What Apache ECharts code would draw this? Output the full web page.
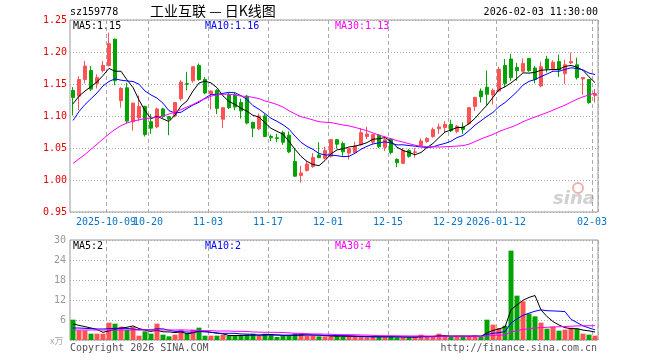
<!DOCTYPE html>
<html><head><meta charset="utf-8">
<script src="https://cdn.jsdelivr.net/npm/echarts@6/dist/echarts.min.js"></script>
<style>html,body{margin:0;padding:0;background:#fff}#c{width:660px;height:360px}</style>
</head><body><div id="c"></div>
<script>
const dates = ['2025-09-23','2025-09-24','2025-09-25','2025-09-26','2025-09-29','2025-09-30','2025-10-09','2025-10-10','2025-10-13','2025-10-14',
'2025-10-15','2025-10-16','2025-10-17','2025-10-20','2025-10-21','2025-10-22','2025-10-23','2025-10-24','2025-10-27','2025-10-28',
'2025-10-29','2025-10-30','2025-10-31','2025-11-03','2025-11-04','2025-11-05','2025-11-06','2025-11-07','2025-11-10','2025-11-11',
'2025-11-12','2025-11-13','2025-11-14','2025-11-17','2025-11-18','2025-11-19','2025-11-20','2025-11-21','2025-11-24','2025-11-25',
'2025-11-26','2025-11-27','2025-11-28','2025-12-01','2025-12-02','2025-12-03','2025-12-04','2025-12-05','2025-12-08','2025-12-09',
'2025-12-10','2025-12-11','2025-12-12','2025-12-15','2025-12-16','2025-12-17','2025-12-18','2025-12-19','2025-12-22','2025-12-23',
'2025-12-24','2025-12-25','2025-12-26','2025-12-29','2025-12-30','2025-12-31','2026-01-05','2026-01-06','2026-01-07','2026-01-08',
'2026-01-09','2026-01-12','2026-01-13','2026-01-14','2026-01-15','2026-01-16','2026-01-19','2026-01-20','2026-01-21','2026-01-22',
'2026-01-23','2026-01-26','2026-01-27','2026-01-28','2026-01-29','2026-01-30','2026-02-02','2026-02-03'];

const opens = [1.140,1.131,1.157,1.171,1.151,1.171,1.179,1.220,1.124,1.144,
1.091,1.097,1.115,1.091,1.083,1.111,1.099,1.100,1.127,1.1505,
1.155,1.179,1.157,1.135,1.140,1.095,1.133,1.133,1.121,1.131,
1.090,1.080,1.100,1.068,1.066,1.074,1.070,1.029,1.007,1.015,
1.021,1.039,1.034,1.037,1.063,1.057,1.042,1.043,1.055,1.068,
1.059,1.070,1.051,1.064,1.032,1.026,1.046,1.043,1.054,1.060,
1.068,1.080,1.082,1.087,1.076,1.083,1.088,1.115,1.139,1.145,
1.133,1.139,1.179,1.189,1.176,1.170,1.190,1.175,1.147,1.189,
1.174,1.185,1.166,1.183,1.180,1.158,1.157,1.132];
const closes = [1.129,1.157,1.178,1.142,1.160,1.179,1.213,1.155,1.143,1.092,
1.120,1.115,1.071,1.081,1.111,1.099,1.095,1.121,1.153,1.1495,
1.177,1.157,1.136,1.139,1.112,1.113,1.113,1.114,1.108,1.089,
1.081,1.100,1.068,1.066,1.065,1.059,1.044,1.006,1.011,1.025,
1.035,1.035,1.046,1.063,1.056,1.044,1.049,1.053,1.074,1.072,
1.071,1.052,1.063,1.043,1.027,1.046,1.037,1.044,1.061,1.065,
1.079,1.083,1.087,1.077,1.084,1.079,1.113,1.129,1.130,1.134,
1.140,1.173,1.151,1.160,1.171,1.182,1.171,1.157,1.177,1.174,
1.184,1.172,1.180,1.185,1.160,1.160,1.121,1.135];
const lows = [1.101,1.109,1.151,1.139,1.143,1.168,1.177,1.148,1.113,1.089,
1.077,1.092,1.068,1.072,1.081,1.097,1.070,1.098,1.124,1.140,
1.152,1.155,1.134,1.110,1.103,1.081,1.111,1.109,1.096,1.087,
1.067,1.078,1.067,1.061,1.059,1.055,1.042,1.005,0.996,1.013,
1.019,1.034,1.032,1.035,1.049,1.038,1.032,1.042,1.054,1.064,
1.056,1.050,1.045,1.040,1.020,1.025,1.035,1.035,1.052,1.058,
1.066,1.072,1.074,1.075,1.073,1.072,1.087,1.108,1.121,1.117,
1.118,1.138,1.145,1.155,1.155,1.168,1.169,1.151,1.145,1.168,
1.171,1.161,1.150,1.181,1.157,1.133,1.119,1.121];
const highs = [1.145,1.162,1.186,1.178,1.165,1.186,1.230,1.221,1.145,1.152,
1.121,1.132,1.116,1.103,1.113,1.113,1.100,1.122,1.156,1.169,
1.178,1.182,1.161,1.140,1.142,1.114,1.136,1.137,1.127,1.133,
1.091,1.104,1.103,1.071,1.072,1.077,1.076,1.050,1.022,1.030,
1.042,1.059,1.052,1.064,1.064,1.060,1.050,1.060,1.081,1.083,
1.072,1.072,1.066,1.066,1.034,1.050,1.048,1.050,1.065,1.067,
1.082,1.088,1.092,1.094,1.086,1.090,1.114,1.130,1.143,1.171,
1.143,1.177,1.189,1.197,1.183,1.190,1.190,1.178,1.185,1.194,
1.187,1.196,1.188,1.199,1.191,1.161,1.158,1.142];
const volumes = [6.1,2.9,2.9,1.9,1.9,1.9,5.2,4.9,4.0,3.1,
3.9,1.3,2.6,1.9,4.9,1.6,1.1,1.6,3.1,1.9,
3.1,3.7,1.3,1.3,1.3,1.6,1.3,1.3,1.3,1.6,
1.9,1.3,1.9,1.6,0.9,1.3,1.3,1.9,1.9,1.3,
1.3,1.1,1.1,1.1,1.3,1.0,1.0,1.0,1.0,0.8,
1.0,1.0,1.0,1.0,0.8,0.8,0.8,1.0,1.6,1.0,
1.0,1.9,1.0,1.0,1.0,1.0,1.3,1.3,1.0,6.1,
4.6,3.6,4.3,26.8,13.3,11.6,7.9,7.1,5.2,3.4,
4.0,2.8,3.1,3.7,3.4,1.9,1.6,1.3];

// moving-average values before enough days are on the chart
const ma5Head = [1.119,1.131,1.139,1.146];
const ma10Head = [1.093,1.107,1.118,1.127,1.136,1.147,1.154,1.158,1.156];
const ma30Head = [1.026,1.033,1.040,1.048,1.056,1.064,1.072,1.079,1.085,1.089,1.092,1.094,1.096,1.097,1.098,1.100,1.103,1.106,1.110,1.114,1.118,1.123,1.127,1.131,1.133,1.134,1.134,1.133,1.131];
const vma5Head = [4.8,4.4,4.0,3.6];
const vma10Head = [3.6,3.6,3.5,3.4,3.3,3.3,3.4,3.5,3.5];
const vma30Head = [3.0,3.0,3.0,3.0,3.0,3.0,3.0,3.0,3.0,3.0,3.0,3.0,3.0,3.0,3.0,3.0,3.0,3.0,3.0,3.0,2.9,2.9,2.8,2.8,2.7,2.7,2.7,2.6,2.6];

const tickDates = ['2025-10-09','2025-10-20','2025-11-03','2025-11-17','2025-12-01','2025-12-15','2025-12-29','2026-01-12','2026-02-03'];
const tickLabels = ['2025-10-09','10-20','11-03','11-17','12-01','12-15','12-29','2026-01-12','02-03'];
const priceTicks = [0.95,1.25,0.05];
const volTicks = [0,30,6];

const titleCode = 'sz159778';
const titleName = '工业互联 — 日K线图';
const titleTime = '2026-02-03 11:30:00';
const priceLegend = ['MA5:1.15','MA10:1.16','MA30:1.13'];
const volLegend = ['MA5:2','MA10:2','MA30:4'];

const RED = '#ff5252', GREEN = '#00a300';
const MONO = '"DejaVu Sans Mono", "Liberation Mono", monospace';

function ma(arr, n, head) {
  return arr.map((v, i) => {
    if (i < n - 1) return head[i];
    let s = 0; for (let k = i - n + 1; k <= i; k++) s += arr[k];
    return +(s / n).toFixed(4);
  });
}
const tickMap = {}; tickDates.forEach((d, i) => tickMap[d] = tickLabels[i]);
const tickOrder = {}; tickDates.forEach((d, i) => tickOrder[d] = i);
const showTick = (idx) => tickMap[dates[idx]] !== undefined;
// labels split on two axes (alternate ticks) so that touching neighbours are both kept
const showTickParity = (p) => (idx) => showTick(idx) && tickOrder[dates[idx]] % 2 === p;

const chart = echarts.init(document.getElementById('c'), null, {renderer: 'canvas'});
const splitX = {show: true, interval: (idx) => showTick(idx), lineStyle: {color: '#aaa', type: [4, 3], width: 1}};
const lineS = (name, data, color, xi) => ({name, type: 'line', xAxisIndex: xi, yAxisIndex: xi, data,
  showSymbol: false, symbol: 'none', lineStyle: {color, width: 1}, z: 5, silent: true});
const labelAxis = (p, withSplit) => ({type: 'category', gridIndex: 0, position: 'bottom', offset: 0, data: dates, boundaryGap: true,
  axisLine: {show: false}, axisTick: {show: false},
  axisLabel: {interval: showTickParity(p), formatter: (v) => tickMap[v] || '', hideOverlap: false,
    color: '#0a74c8', fontFamily: MONO, fontSize: 10, margin: 5, padding: [0, 6, 0, 0]},
  splitLine: withSplit ? splitX : {show: false}});

chart.setOption({
  animation: false,
  backgroundColor: '#fff',
  grid: [
    {left: 70, top: 20, width: 528, height: 192, show: true, borderColor: '#999', borderWidth: 1, backgroundColor: 'transparent'},
    {left: 70, top: 240, width: 528, height: 100, show: true, borderColor: '#999', borderWidth: 1, backgroundColor: 'transparent'}
  ],
  xAxis: [
    labelAxis(0, true),
    {type: 'category', gridIndex: 1, data: dates, boundaryGap: true,
     axisLine: {show: false}, axisTick: {show: false}, axisLabel: {show: false},
     splitLine: splitX},
    labelAxis(1, false)
  ],
  yAxis: [
    {type: 'value', gridIndex: 0, min: priceTicks[0], max: priceTicks[1], interval: priceTicks[2],
     axisLine: {show: false}, axisTick: {show: false},
     axisLabel: {color: '#e60000', fontFamily: MONO, fontSize: 10, margin: 3, formatter: (v) => v.toFixed(2)},
     splitLine: {lineStyle: {color: '#aaa', type: [1, 2]}}},
    {type: 'value', gridIndex: 1, min: volTicks[0], max: volTicks[1], interval: volTicks[2],
     axisLine: {show: false}, axisTick: {show: false},
     axisLabel: {color: '#999', fontFamily: MONO, fontSize: 10, margin: 4, formatter: (v) => v === 0 ? '' : String(v)},
     splitLine: {lineStyle: {color: '#aaa', type: [1, 2]}}}
  ],
  series: [
    {type: 'candlestick', xAxisIndex: 0, yAxisIndex: 0, barWidth: 4,
     data: dates.map((d, i) => [opens[i], closes[i], lows[i], highs[i]]),
     itemStyle: {color: RED, color0: GREEN, borderColor: RED, borderColor0: GREEN, borderWidth: 1}},
    lineS('MA5', ma(closes, 5, ma5Head), '#000000', 0),
    lineS('MA10', ma(closes, 10, ma10Head), '#0000ff', 0),
    lineS('MA30', ma(closes, 30, ma30Head), '#ff00ff', 0),
    {type: 'bar', xAxisIndex: 1, yAxisIndex: 1, barWidth: 5,
     data: volumes.map((v, i) => ({value: v, itemStyle: {color: closes[i] >= opens[i] ? RED : GREEN}}))},
    lineS('VMA5', ma(volumes, 5, vma5Head), '#000000', 1),
    lineS('VMA10', ma(volumes, 10, vma10Head), '#0000ff', 1),
    lineS('VMA30', ma(volumes, 30, vma30Head), '#ff00ff', 1)
  ],
  graphic: [
    {type: 'text', left: 70, top: 7, style: {text: titleCode, font: '10px ' + MONO, fill: '#000'}},
    {type: 'text', left: 150, top: 4, style: {text: titleName, font: '14px "Noto Sans CJK SC"', fill: '#000'}},
    {type: 'text', right: 62, top: 7, style: {text: titleTime, font: '10px ' + MONO, fill: '#000'}},
    {type: 'text', left: 73, top: 21, style: {text: priceLegend[0], font: '10px ' + MONO, fill: '#000'}},
    {type: 'text', left: 205, top: 21, style: {text: priceLegend[1], font: '10px ' + MONO, fill: '#0000ff'}},
    {type: 'text', left: 335, top: 21, style: {text: priceLegend[2], font: '10px ' + MONO, fill: '#ff00ff'}},
    {type: 'text', left: 73, top: 241, style: {text: volLegend[0], font: '10px ' + MONO, fill: '#000'}},
    {type: 'text', left: 205, top: 241, style: {text: volLegend[1], font: '10px ' + MONO, fill: '#0000ff'}},
    {type: 'text', left: 335, top: 241, style: {text: volLegend[2], font: '10px ' + MONO, fill: '#ff00ff'}},
    {type: 'text', left: 50, top: 336, style: {text: 'x万', font: '9px "Noto Sans CJK SC"', fill: '#aaa'}},
    {type: 'text', left: 70, top: 343, style: {text: 'Copyright 2026 SINA.COM', font: '10px ' + MONO, fill: '#555'}},
    {type: 'text', right: 63, top: 343, style: {text: 'http://finance.sina.com.cn', font: '10px ' + MONO, fill: '#555'}},
    {type: 'circle', shape: {cx: 578, cy: 188, r: 5}, style: {fill: 'none', stroke: '#f0b0b0', lineWidth: 2}, z: 1},
    {type: 'text', left: 553, top: 190, style: {text: 'sina', font: 'italic bold 18px "DejaVu Sans"', fill: 'rgba(150,150,150,0.45)'}, z: 1}
  ]
});
</script></body></html>
